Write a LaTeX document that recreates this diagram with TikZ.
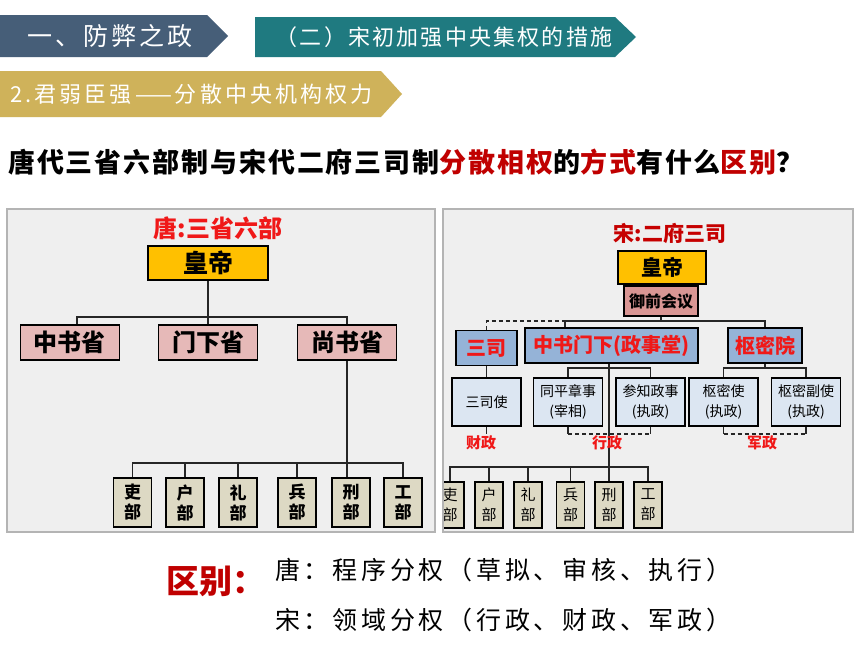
\documentclass[tikz,border=0pt]{standalone}
\usepackage{fontspec}
\setmainfont{Noto Sans CJK SC}
\usetikzlibrary{calc}
\newcommand\fsz[2]{\fontsize{#1}{#2}\selectfont}
\definecolor{slate}{HTML}{465E78}
\definecolor{teal2}{HTML}{1F7A80}
\definecolor{gold2}{HTML}{CFB25A}
\definecolor{darkred}{HTML}{C00000}
\definecolor{brightred}{HTML}{F01818}
\definecolor{empY}{HTML}{FFC000}
\definecolor{pinkA}{HTML}{E6B9B8}
\definecolor{pinkB}{HTML}{D99694}
\definecolor{blueA}{HTML}{95B3D7}
\definecolor{blueB}{HTML}{DCE6F2}
\definecolor{tanA}{HTML}{DDD9C4}
\definecolor{panelbg}{HTML}{EFEFEF}
\definecolor{panelln}{HTML}{B4B4B4}
\begin{document}
\begin{tikzpicture}[x=1pt,y=-1pt,
  box/.style={draw=black, line width=1.8pt, inner sep=0pt, align=center},
  ln/.style={draw=black!85, line width=1.4pt},
  dsh/.style={draw=black!85, line width=1.4pt, dash pattern=on 4pt off 3pt},
  bantext/.style={text=white, inner sep=0pt, font=\fsz{22}{26}},
  tdept/.style={box, fill=tanA, minimum width=38pt, minimum height=49pt, font=\bfseries\fsz{17}{20}},
  sdept/.style={box, fill=tanA, line width=1.6pt, minimum width=28pt, minimum height=46pt, font=\fsz{15}{20}},
  srow/.style={box, fill=blueB, line width=1.6pt, minimum width=69pt, minimum height=48pt, font=\fsz{14}{20}},
  sgov/.style={box, fill=blueA, line width=1.6pt, minimum height=35pt, text=brightred, font=\bfseries\fsz{20}{24}},
  redlab/.style={text=brightred, inner sep=0pt, font=\bfseries\fsz{15}{18}},
  tsheng/.style={box, fill=pinkA, minimum width=99pt, minimum height=35pt, font=\bfseries\fsz{24}{28}}]
\fill[white] (0,0) rectangle (860,645);
\useasboundingbox (0,0) rectangle (860,645);

% ---------- banners ----------
\fill[slate] (0,15) -- (207,15) -- (228,36) -- (207,57) -- (0,57) -- cycle;
\node[bantext, font=\fsz{25}{28}\addfontfeature{LetterSpace=12}] (b1) at (110,36) {一、防弊之政};
\fill[teal2] (255,17) -- (615,17) -- (636,37) -- (615,57) -- (255,57) -- cycle;
\node[bantext, font=\fsz{22}{26}\addfontfeature{LetterSpace=10}] (b2) at (444,37) {（二）宋初加强中央集权的措施};
\fill[gold2] (0,71) -- (381,71) -- (402,94) -- (381,117) -- (0,117) -- cycle;
\node[bantext, anchor=west, font=\fsz{22}{26}\addfontfeature{LetterSpace=14}] (b3) at (10,94) {2.君弱臣强——分散中央机构权力};

% ---------- question ----------
\node[anchor=west, inner sep=0pt, font=\bfseries\fsz{27}{30}\addfontfeature{LetterSpace=7}] (q) at (8,162)
  {唐代三省六部制与宋代二府三司制\textcolor{darkred}{分散相权}的\textcolor{darkred}{方式}有什么\textcolor{darkred}{区别}？};

% ---------- left panel (Tang) ----------
\draw[panelln, line width=1.2pt, fill=panelbg] (7,209) rectangle (435,532);
\node[inner sep=0pt, text=brightred, font=\bfseries\fsz{24}{28}] (tTitle) at (218,228) {唐:三省六部};
\node[box, fill=empY, minimum width=120pt, minimum height=34pt, font=\bfseries\fsz{25}{28}] (tEmp) at (208,263) {皇帝};
\node[tsheng] (tZS) at (70,342.5) {中书省};
\node[tsheng] (tMX) at (208,342.5) {门下省};
\node[tsheng] (tSS) at (347,342.5) {尚书省};
\coordinate (tbus) at (208,317);
\draw[ln] (tEmp.south) -- (tMX.north);
\draw[ln] ([xshift=7pt]tZS.north) |- (tbus) -| (tSS.north);

\node[tdept] (tLB) at (132.5,502.5) {吏\\部};
\node[tdept] (tHB) at (185,502.5) {户\\部};
\node[tdept] (tRB) at (238,502.5) {礼\\部};
\node[tdept] (tBB) at (297,502.5) {兵\\部};
\node[tdept] (tXB) at (351,502.5) {刑\\部};
\node[tdept] (tGB) at (403,502.5) {工\\部};
\coordinate (tbus2) at (349,463);
\draw[ln] (tSS.south) -- (tSS.south |- tXB.north);
\draw[ln] (tLB.north) |- (tbus2) -| (tGB.north);
\foreach \n in {tHB,tRB,tBB} \draw[ln] (\n.north) -- (\n.north |- tbus2);

% ---------- right panel (Song) ----------
\fill[panelbg] (443,209) rectangle (853,532);
\begin{scope}
\clip (443,209) rectangle (853,532);
\node[inner sep=0pt, text=darkred!90!red, font=\bfseries\fsz{21}{25}] (sTitle) at (670,233) {宋:二府三司};
\node[box, fill=empY, line width=1.6pt, minimum width=88pt, minimum height=33pt, font=\bfseries\fsz{21}{25}] (sEmp) at (662,267.5) {皇帝};
\node[box, fill=pinkB, line width=1.6pt, minimum width=74pt, minimum height=30pt, font=\bfseries\fsz{16}{20}] (sYQ) at (661,301) {御前会议};
\node[sgov, minimum width=61pt] (sSS) at (486.5,348) {三司};
\node[sgov, minimum width=173pt] (sZS) at (611.5,345.5) {中书门下(政事堂)};
\node[sgov, minimum width=74pt] (sSM) at (765,345.5) {枢密院};
\coordinate (sbus) at (661,321);
\draw[ln] (sYQ.south) -- (sbus);
\draw[ln] ([xshift=-46.5pt]sZS.north) |- (sbus) -| (sSM.north);
\draw[dsh] (sSS.north) |- ([xshift=-46.5pt]sZS.north |- sbus);

\node[srow] (sSSS) at (486.5,402) {三司使};
\node[srow] (sTP) at (568,402) {同平章事\\(宰相)};
\node[srow] (sCZ) at (650.5,402) {参知政事\\(执政)};
\node[srow] (sSMS) at (723.5,402) {枢密使\\(执政)};
\node[srow] (sSMF) at (806,402) {枢密副使\\(执政)};
\draw[ln] (sSS.south) -- (sSSS.north);
\coordinate (szbus) at (609,368);
\draw[ln] (sTP.north) |- (szbus) -| (sCZ.north);
\coordinate (smbus) at (765,368);
\draw[ln] (sSM.south) -- (smbus);
\draw[ln] (sSMS.north) |- (smbus) -| (sSMF.north);
% dashed brackets
\coordinate (sdl) at (568,434);
\coordinate (sdr) at (650.5,434);
\draw[ln] (sTP.south) -- (sdl);
\draw[ln] (sCZ.south) -- (sdr);
\draw[dsh] (sdl) -- (sdr);
\coordinate (sml) at (723.5,434);
\coordinate (smr) at (806,434);
\draw[ln] (sSMS.south) -- (sml);
\draw[ln] (sSMF.south) -- (smr);
\draw[dsh] (sml) -- (smr);
\coordinate (scz) at (486.5,434);
\draw[ln] (sSSS.south) -- (scz);

\node[sdept] (sLB) at (450,505) {吏\\部};
\node[sdept] (sHB) at (489,505) {户\\部};
\node[sdept] (sRB) at (528,505) {礼\\部};
\node[sdept] (sBB) at (570.5,505) {兵\\部};
\node[sdept] (sXB) at (609,505) {刑\\部};
\node[sdept] (sGB) at (648,505) {工\\部};
\coordinate (sbus2) at (609,467);
\draw[ln] (sXB.north |- sZS.south) -- (sXB.north);
\draw[ln] (sLB.north) |- (sbus2) -| (sGB.north);
\foreach \n in {sHB,sRB,sBB} \draw[ln] (\n.north) -- (\n.north |- sbus2);

\node[redlab] (lCZ) at (481,443) {财政};
\node[redlab] (lXZ) at (607,443) {行政};
\node[redlab] (lJZ) at (762,443) {军政};
\end{scope}
\draw[panelln, line width=1.2pt] (443,209) rectangle (853,532);

% ---------- bottom ----------
\node[anchor=west, inner sep=0pt, text=darkred, font=\bfseries\fsz{33}{36}] (qb) at (166,581) {区别：};
\node[anchor=west, inner sep=0pt, font=\fsz{25}{28}\addfontfeature{LetterSpace=15}] (a1) at (275,570) {唐：程序分权（草拟、审核、执行）};
\node[anchor=west, inner sep=0pt, font=\fsz{25}{28}\addfontfeature{LetterSpace=15}] (a2) at (275,620) {宋：领域分权（行政、财政、军政）};
\end{tikzpicture}
\end{document}
